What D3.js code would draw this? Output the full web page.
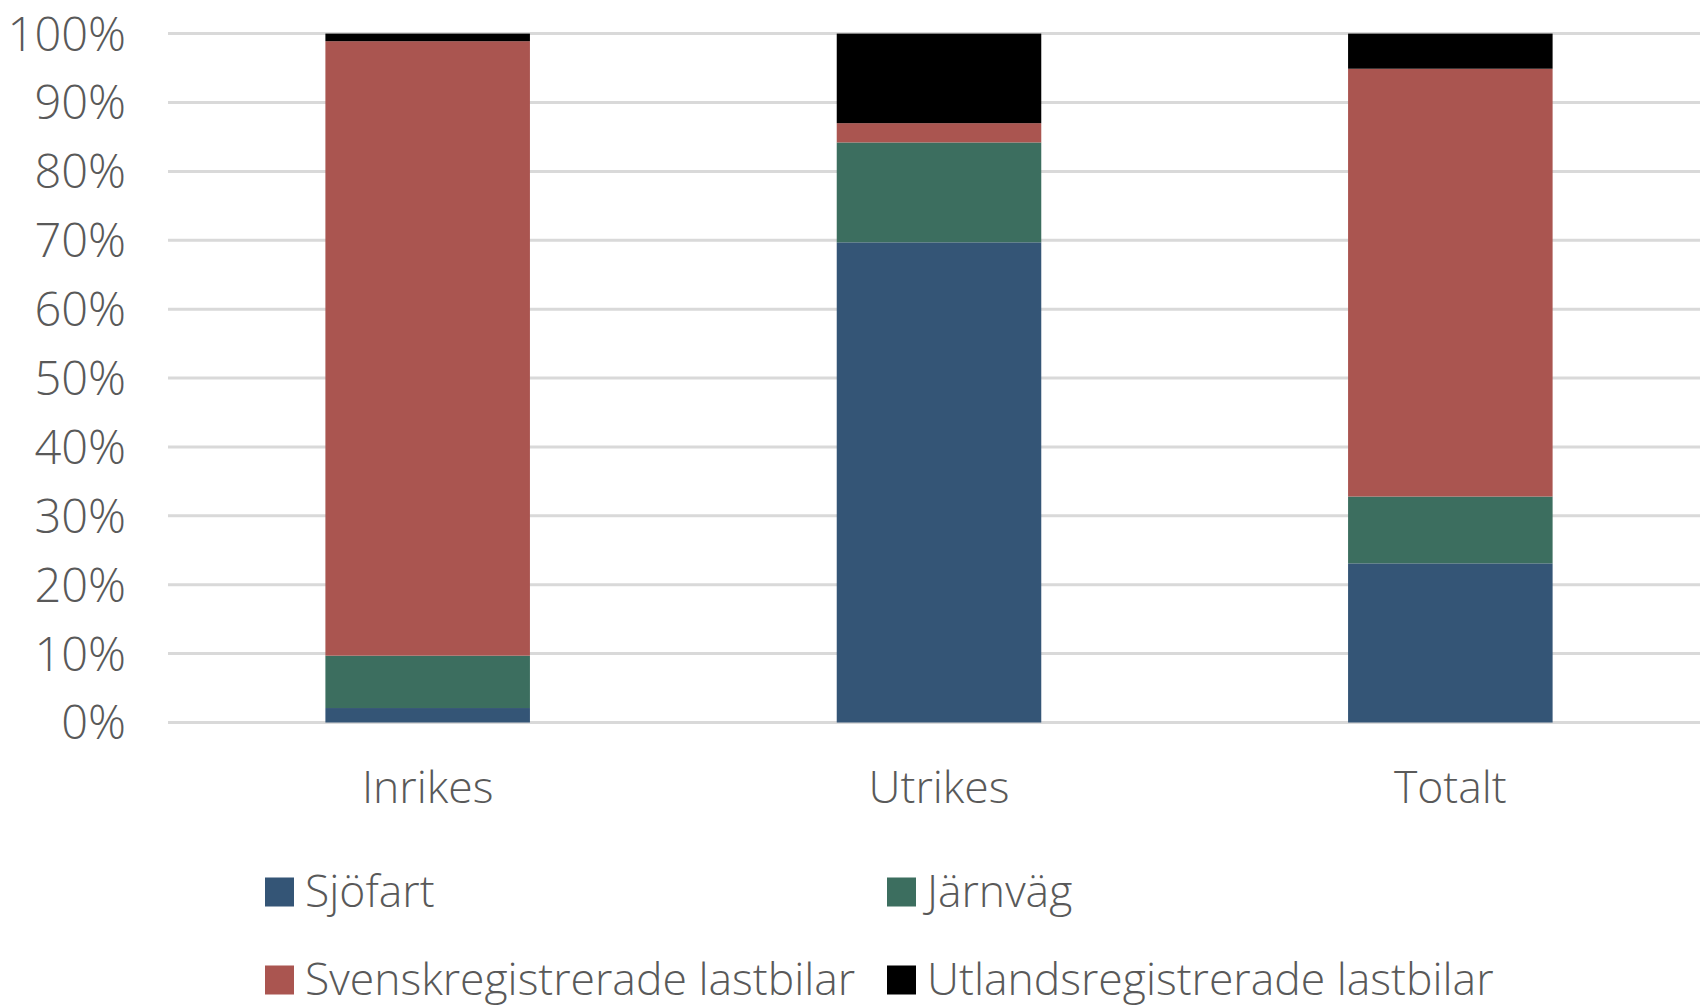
<!DOCTYPE html>
<html>
<head>
<meta charset="utf-8">
<script src="https://cdn.jsdelivr.net/npm/d3@7"></script>
<style>
  html, body { margin: 0; padding: 0; background: #fff; }
  svg text { font-family: "Open Sans", "Noto Sans", sans-serif; font-weight: 300; fill: #595959; }
</style>
</head>
<body>
<svg id="chart" width="1700" height="1005"></svg>
<script>
const categories = ["Inrikes", "Utrikes", "Totalt"];
const seriesNames = ["Sjöfart", "Järnväg", "Svenskregistrerade lastbilar", "Utlandsregistrerade lastbilar"];
const sjofart = [2.1, 69.7, 23.1];
const jarnvag = [7.6, 14.5, 9.7];
const svensk = [89.2, 2.8, 62.1];
const utlands = [1.1, 13.0, 5.1];
const tickValues = [0, 10, 20, 30, 40, 50, 60, 70, 80, 90, 100];
const tickLabels = ["0%", "10%", "20%", "30%", "40%", "50%", "60%", "70%", "80%", "90%", "100%"];
const colors = ["#345576", "#3c6e5f", "#aa5550", "#000000"];

const seriesValues = [sjofart, jarnvag, svensk, utlands];
const rows = categories.map((c, i) => {
  const r = { cat: c };
  seriesNames.forEach((s, j) => r[s] = seriesValues[j][i]);
  return r;
});

const svg = d3.select("#chart");
const x = d3.scaleBand().domain(categories).range([172, 1706]).paddingInner(0.6).paddingOuter(0.3);
const y = d3.scaleLinear().domain([0, 100]).range([722.5, 33.6]);

const FS = 44.5;

// gridlines
svg.append("g").selectAll("line").data(tickValues).join("line")
  .attr("x1", 168).attr("x2", 1700)
  .attr("y1", d => y(d)).attr("y2", d => y(d))
  .attr("stroke", "#d9d9d9").attr("stroke-width", 3);

// y tick labels
svg.append("g").selectAll("text").data(tickValues).join("text")
  .attr("x", 126).attr("y", d => y(d))
  .attr("text-anchor", "end").attr("dy", "0.36em")
  .style("font-size", "47px")
  .text((d, i) => tickLabels[i]);

// stacked bars
const stack = d3.stack().keys(seriesNames)(rows);
svg.append("g").selectAll("g").data(stack).join("g")
  .attr("fill", (d, i) => colors[i])
  .selectAll("rect").data(d => d).join("rect")
  .attr("x", d => x(d.data.cat))
  .attr("width", x.bandwidth())
  .attr("y", d => y(d[1]))
  .attr("height", d => y(d[0]) - y(d[1]));

// x labels
svg.append("g").selectAll("text").data(categories).join("text")
  .attr("x", d => x(d) + x.bandwidth() / 2).attr("y", 803)
  .attr("text-anchor", "middle")
  .style("font-size", FS + "px")
  .text(d => d);

// legend
const legendPos = [[265, 892], [887, 892], [265, 980], [887, 980]];
const lg = svg.append("g").selectAll("g").data(seriesNames).join("g")
  .attr("transform", (d, i) => `translate(${legendPos[i][0]},${legendPos[i][1]})`);
lg.append("rect").attr("x", 0).attr("y", -14.5).attr("width", 29).attr("height", 29)
  .attr("fill", (d, i) => colors[i]);
lg.append("text")
  .attr("x", 40).attr("y", 15)
  .style("font-size", FS + "px")
  .text(d => d);
</script>
</body>
</html>
